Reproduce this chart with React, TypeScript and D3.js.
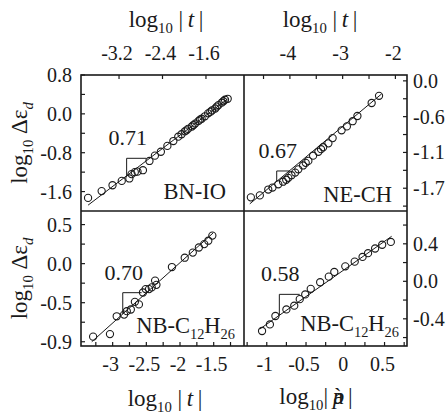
import { useEffect, useRef } from "react";
import * as d3 from "d3";

const bnIo: [number, number][] = [
  [-3.77, -1.73], [-3.52, -1.59], [-3.32, -1.47], [-3.15, -1.38], [-3.01, -1.33],
  [-2.97, -1.24], [-2.91, -1.2], [-2.86, -1.19], [-2.76, -1.16], [-2.64, -0.97],
  [-2.54, -0.86], [-2.43, -0.78], [-2.31, -0.66], [-2.2, -0.56], [-2.11, -0.47],
  [-2.05, -0.42], [-1.99, -0.36], [-1.96, -0.34], [-1.93, -0.31], [-1.86, -0.26],
  [-1.83, -0.23], [-1.8, -0.2], [-1.74, -0.15], [-1.71, -0.12], [-1.68, -0.1],
  [-1.62, -0.05], [-1.56, 0.01], [-1.52, 0.04], [-1.49, 0.07], [-1.43, 0.11],
  [-1.4, 0.15], [-1.37, 0.18], [-1.31, 0.23], [-1.28, 0.26], [-1.25, 0.29], [-1.2, 0.31],
];
const neCh: [number, number][] = [
  [-4.74, -1.79], [-4.57, -1.76], [-4.41, -1.67], [-4.33, -1.64], [-4.22, -1.59],
  [-4.13, -1.55], [-4.07, -1.52], [-4.03, -1.49], [-3.97, -1.45], [-3.9, -1.41],
  [-3.84, -1.36], [-3.75, -1.3], [-3.7, -1.26], [-3.65, -1.23], [-3.56, -1.15],
  [-3.46, -1.09], [-3.41, -1.05], [-3.37, -1.02], [-3.27, -0.96], [-3.19, -0.88],
  [-3.02, -0.76], [-2.92, -0.7], [-2.81, -0.62], [-2.72, -0.54], [-2.45, -0.34], [-2.31, -0.23],
];
const nbTime: [number, number][] = [
  [-3.29, -0.86], [-3.04, -0.83], [-2.94, -0.62], [-2.83, -0.6], [-2.79, -0.56],
  [-2.73, -0.54], [-2.67, -0.45], [-2.61, -0.48], [-2.55, -0.34], [-2.51, -0.3],
  [-2.46, -0.3], [-2.42, -0.28], [-2.37, -0.2], [-2.35, -0.25], [-2.12, -0.04],
  [-1.93, 0.07], [-1.81, 0.13], [-1.72, 0.19], [-1.64, 0.23], [-1.58, 0.27], [-1.52, 0.33],
];
const nbRate: [number, number][] = [
  [-1.06, -0.53], [-0.96, -0.46], [-0.89, -0.37], [-0.75, -0.3], [-0.65, -0.26],
  [-0.58, -0.19], [-0.51, -0.14], [-0.44, -0.08], [-0.32, -0.01], [-0.21, 0.05],
  [-0.14, 0.1], [0.0, 0.16], [0.12, 0.21], [0.22, 0.26], [0.29, 0.3], [0.38, 0.35],
  [0.47, 0.39], [0.58, 0.42],
];

const fits: [number, number][][] = [
  [[-3.77, -1.88], [-1.2, 0.31]],
  [[-4.76, -1.89], [-2.26, -0.2]],
  [[-3.31, -0.92], [-1.51, 0.36]],
  [[-1.09, -0.51], [0.59, 0.48]],
];
// slope triangle: [x at vertical leg, x at end of horizontal leg, y of horizontal leg]
const triangles = [
  [-3.06, -2.7, -0.915],
  [-4.25, -4.0, -1.385],
  [-2.85, -2.57, -0.342],
  [-0.84, -0.58, -0.139],
];
const slopes = ["0.71", "0.67", "0.70", "0.58"];
const names = ["BN-IO", "NE-CH", "NB-C12H26", "NB-C12H26"];

const xDomains = [[-3.9, -0.9], [-4.87, -1.78], [-3.47, -1.05], [-1.29, 0.786]];
const yDomains = [[-2.0, 0.8], [-2.0, 0.09], [-0.97, 0.62], [-0.69, 0.75]];

const xTicks = [
  [-3.2, -2.4, -1.6],
  [-4.5, -4, -3.5, -3, -2.5, -2],
  [-3.25, -3, -2.75, -2.5, -2.25, -2, -1.75, -1.5, -1.25],
  [-1.25, -1, -0.75, -0.5, -0.25, 0, 0.25, 0.5, 0.75],
];
const xLabels = [
  ["-3.2", "-2.4", "-1.6"],
  ["", "-4", "", "-3", "", "-2"],
  ["", "-3", "", "-2.5", "", "-2", "", "-1.5", ""],
  ["", "-1", "", "-0.5", "", "0", "", "0.5", ""],
];
const yTicks = [
  [0.8, 0.4, 0, -0.4, -0.8, -1.2, -1.6],
  [0, -0.275, -0.55, -0.825, -1.1, -1.375, -1.65, -1.925],
  [0.46, 0.23, 0, -0.23, -0.46, -0.69, -0.92],
  [0.6, 0.4, 0.2, 0, -0.2, -0.4, -0.6],
];
const yLabels = [
  ["0.8", "", "0.0", "", "-0.8", "", "-1.6"],
  ["0.0", "", "-0.6", "", "-1.1", "", "-1.7", ""],
  ["0.5", "", "0.0", "", "-0.5", "", "-0.9"],
  ["", "0.4", "", "0.0", "", "-0.4", ""],
];

const FONT = "Liberation Serif, Times New Roman, serif";
const INK = "#1a1a1a";

type Part = { t: string; sub?: boolean; it?: boolean; dx?: number };

function rich(sel: any, parts: Part[], size: number) {
  let shifted = false;
  parts.forEach((p) => {
    const ts = sel.append("tspan").text(p.t);
    if (p.sub && !shifted) {
      ts.attr("dy", size * 0.28);
      shifted = true;
    } else if (!p.sub && shifted) {
      ts.attr("dy", -size * 0.28);
      shifted = false;
    }
    if (p.sub) ts.attr("font-size", size * 0.64);
    if (p.it) ts.attr("font-style", "italic");
    if (p.dx) ts.attr("dx", p.dx);
  });
}

function nameParts(n: string): Part[] {
  if (n === "NB-C12H26")
    return [{ t: "NB-C" }, { t: "12", sub: true }, { t: "H" }, { t: "26", sub: true }];
  return [{ t: n }];
}

export default function App() {
  const ref = useRef<SVGSVGElement>(null);

  useEffect(() => {
    const svg = d3.select(ref.current);
    svg.selectAll("*").remove();
    svg.style("font-family", FONT);

    const L = 81, M = 244, R = 407, T = 75, H = 211, B = 346;
    const boxes = [
      { x0: L, x1: M, y0: T, y1: H, xSide: "top", ySide: "left" },
      { x0: M, x1: R, y0: T, y1: H, xSide: "top", ySide: "right" },
      { x0: L, x1: M, y0: H, y1: B, xSide: "bottom", ySide: "left" },
      { x0: M, x1: R, y0: H, y1: B, xSide: "bottom", ySide: "right" },
    ];
    const namePad = [[18, 12], [15, 9], [9, 13], [8, 15]];
    const data = [bnIo, neCh, nbTime, nbRate];

    boxes.forEach((b, i) => {
      const x = d3.scaleLinear().domain(xDomains[i]).range([b.x0, b.x1]);
      const y = d3.scaleLinear().domain(yDomains[i]).range([b.y1, b.y0]);
      const g = svg.append("g");

      // x ticks, pointing inward
      const ty = b.xSide === "top" ? b.y0 : b.y1;
      const dir = b.xSide === "top" ? 1 : -1;
      xTicks[i].forEach((v, k) => {
        g.append("line")
          .attr("x1", x(v)).attr("x2", x(v))
          .attr("y1", ty).attr("y2", ty + dir * 4)
          .attr("stroke", INK).attr("stroke-width", 1.2);
        if (xLabels[i][k])
          g.append("text")
            .attr("x", x(v) - 2)
            .attr("y", b.xSide === "top" ? 60 : 371)
            .attr("text-anchor", "middle")
            .attr("font-size", 20)
            .text(xLabels[i][k]);
      });

      const tx = b.ySide === "left" ? b.x0 : b.x1;
      const ydir = b.ySide === "left" ? 1 : -1;
      yTicks[i].forEach((v, k) => {
        g.append("line")
          .attr("x1", tx).attr("x2", tx + ydir * 4)
          .attr("y1", y(v)).attr("y2", y(v))
          .attr("stroke", INK).attr("stroke-width", 1.2);
        if (yLabels[i][k])
          g.append("text")
            .attr("x", b.ySide === "left" ? 72 : 413)
            .attr("y", y(v))
            .attr("dy", "0.35em")
            .attr("text-anchor", b.ySide === "left" ? "end" : "start")
            .attr("font-size", 20)
            .text(yLabels[i][k]);
      });

      const line = d3.line<[number, number]>().x((d) => x(d[0])).y((d) => y(d[1]));
      g.append("path")
        .attr("d", line(fits[i]))
        .attr("fill", "none").attr("stroke", INK).attr("stroke-width", 1);

      const [f0, f1] = fits[i];
      const fy = (v: number) => f0[1] + ((v - f0[0]) * (f1[1] - f0[1])) / (f1[0] - f0[0]);
      const [t1, t2, tTop] = triangles[i];
      g.append("path")
        .attr("d", line([[t1, fy(t1)], [t1, tTop], [t2, tTop]]))
        .attr("fill", "none").attr("stroke", INK).attr("stroke-width", 1);

      g.append("g")
        .selectAll("circle")
        .data(data[i])
        .join("circle")
        .attr("cx", (d) => x(d[0]))
        .attr("cy", (d) => y(d[1]))
        .attr("r", 3.6)
        .attr("fill", "none")
        .attr("stroke", INK)
        .attr("stroke-width", 1.1);

      g.append("text")
        .attr("x", x(t1) + 1)
        .attr("y", y(tTop) - 13)
        .attr("text-anchor", "middle")
        .attr("font-size", 22)
        .text(slopes[i]);

      const nt = g.append("text")
        .attr("x", b.x1 - namePad[i][0])
        .attr("y", b.y1 - namePad[i][1])
        .attr("text-anchor", "end")
        .attr("font-size", 22.5);
      rich(nt, nameParts(names[i]), 22.5);
    });

    // frame and the cross dividing the panels
    svg.append("rect")
      .attr("x", L).attr("y", T).attr("width", R - L).attr("height", B - T)
      .attr("fill", "none").attr("stroke", INK).attr("stroke-width", 1.6);
    svg.append("line").attr("x1", M).attr("x2", M).attr("y1", T).attr("y2", B)
      .attr("stroke", INK).attr("stroke-width", 1.6);
    svg.append("line").attr("x1", L).attr("x2", R).attr("y1", H).attr("y2", H)
      .attr("stroke", INK).attr("stroke-width", 1.6);

    // axis titles
    const tParts: Part[] = [
      { t: "log" }, { t: "10", sub: true }, { t: " |\u2009" }, { t: "t", it: true }, { t: "\u2009|" },
    ];
    const pParts: Part[] = [
      { t: "log" }, { t: "10", sub: true }, { t: "|\u2009" }, { t: "p", it: true }, { t: "\u00e0", dx: -11 }, { t: "\u2009|" },
    ];
    const titles: [number, number, Part[]][] = [
      [166, 27, tParts],
      [320, 27, tParts],
      [165, 406, tParts],
      [316, 404, pParts],
    ];
    titles.forEach(([cx, cy, parts]) => {
      const t = svg.append("text")
        .attr("x", cx).attr("y", cy)
        .attr("text-anchor", "middle")
        .attr("font-size", 23);
      rich(t, parts, 23);
    });

    const yParts: Part[] = [
      { t: "log" }, { t: "10", sub: true }, { t: " \u0394\u03b5" }, { t: "d", sub: true, it: true },
    ];
    [(T + H) / 2, (H + B) / 2].forEach((cy) => {
      const t = svg.append("text")
        .attr("transform", `translate(27,${cy}) rotate(-90)`)
        .attr("text-anchor", "middle")
        .attr("font-size", 23);
      rich(t, yParts, 23);
    });
  }, []);

  return (
    <svg
      ref={ref}
      width={446}
      height={416}
      style={{ position: "absolute", left: 0, top: 0, background: "#fff" }}
      fill={INK}
    />
  );
}
